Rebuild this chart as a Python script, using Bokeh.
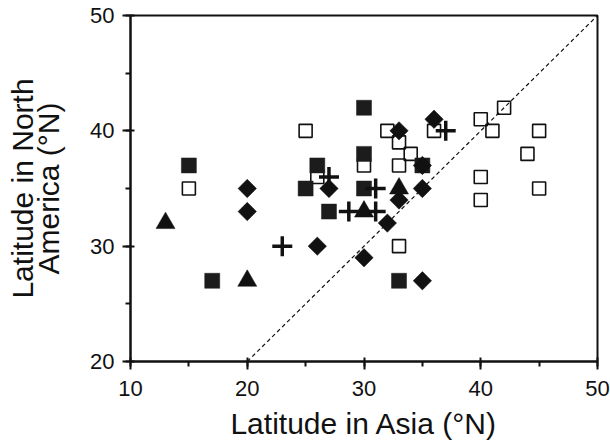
import math
from bokeh.plotting import figure
from bokeh.models import SingleIntervalTicker, Slope
from bokeh.embed import file_html
from bokeh.resources import INLINE

# Latitude in Asia (x) vs latitude in North America (y), by symbol group
filled_sq_x = [15, 17, 25, 26, 27, 30, 30, 30, 33, 35]
filled_sq_y = [37, 27, 35, 37, 33, 42, 38, 35, 27, 37]

open_sq_x = [15, 25, 26, 30, 32, 33, 34, 33, 36, 33, 40, 42, 41, 45, 44, 40, 40, 45]
open_sq_y = [35, 40, 36, 37, 40, 39, 38, 37, 40, 30, 41, 42, 40, 40, 38, 36, 34, 35]

diamond_x = [20, 20, 26, 27, 33, 36, 35, 35, 33, 32, 30, 35]
diamond_y = [35, 33, 30, 35, 40, 41, 37, 35, 34, 32, 29, 27]

triangle_x = [13, 20, 30, 33]
triangle_y = [32, 27, 33, 35]

plus_x = [23, 27, 28.7, 31, 31, 37]
plus_y = [30, 36, 33, 33, 35, 40]

x_ticks = [10, 20, 30, 40, 50]
y_ticks = [20, 30, 40, 50]

FONT = "Liberation Sans"
INK = "#111111"

p = figure(width=610, height=445, x_range=(10, 50), y_range=(20, 50),
           output_backend="svg", toolbar_location=None,
           min_border_left=130, min_border_right=13,
           min_border_top=15, min_border_bottom=84)

p.xgrid.visible = False
p.ygrid.visible = False
p.outline_line_color = INK
p.outline_line_width = 2
p.background_fill_color = "white"
p.border_fill_color = "white"

# 1:1 line
p.add_layout(Slope(gradient=1, y_intercept=0, line_color=INK,
                   line_width=1.2, line_dash="4 3"))

p.scatter(open_sq_x, open_sq_y, marker="square", size=13,
          fill_alpha=0, line_color=INK, line_width=1.6)
p.scatter(filled_sq_x, filled_sq_y, marker="square", size=15,
          fill_color="#1c1c1c", line_color="#1c1c1c", line_width=0.5)
p.scatter(diamond_x, diamond_y, marker="square", size=13, angle=math.pi / 4,
          fill_color=INK, line_color=INK, line_width=0.5)
p.scatter(triangle_x, triangle_y, marker="triangle", size=19,
          fill_color=INK, line_color=INK, line_width=0.5)
p.scatter(plus_x, plus_y, marker="cross", size=20,
          line_color=INK, line_width=3.5)

for ax, ticks in ((p.xaxis, x_ticks), (p.yaxis, y_ticks)):
    ax.ticker = SingleIntervalTicker(interval=10, num_minor_ticks=2)
    ax.axis_line_color = INK
    ax.axis_line_width = 2
    ax.major_tick_line_color = INK
    ax.major_tick_line_width = 2
    ax.major_tick_out = 8
    ax.major_tick_in = 4
    ax.minor_tick_line_color = INK
    ax.minor_tick_line_width = 2
    ax.minor_tick_out = 5
    ax.minor_tick_in = 0
    ax.major_label_text_font = FONT
    ax.major_label_text_font_size = "22px"
    ax.major_label_text_color = INK
    ax.axis_label_text_font = FONT
    ax.axis_label_text_font_style = "normal"
    ax.axis_label_text_font_size = "30px"
    ax.axis_label_text_color = INK

p.xaxis.major_label_standoff = 11
p.yaxis.major_label_standoff = 8
p.xaxis.axis_label = "Latitude in Asia (°N)"
p.xaxis.axis_label_standoff = 8
p.yaxis.axis_label = "Latitude in North\nAmerica (°N)"
p.yaxis.axis_label_standoff = 22
p.yaxis.axis_label_text_line_height = 0.8

open("out.html", "w").write(file_html(p, INLINE))
